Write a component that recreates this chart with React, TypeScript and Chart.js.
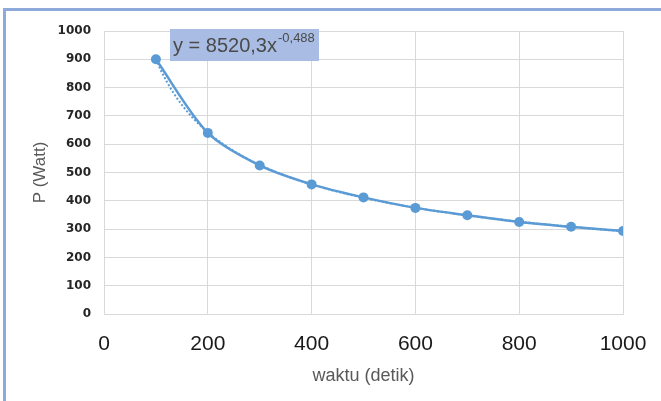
import React, { useEffect, useRef } from "react";
import { Chart, registerables } from "chart.js";

Chart.register(...registerables);

// Measured power against elapsed time
const waktu = [100, 200, 300, 400, 500, 600, 700, 800, 900, 1000];
const daya = [900, 640, 525, 458, 412, 375, 349, 325, 308, 293];

// Power-law trendline y = A * x^B, as given in the equation label
const trendA = 8520.3;
const trendB = -0.488;
const trendLabel = "y = 8520,3x";
const trendExpLabel = "-0,488";

const xTicks = [0, 200, 400, 600, 800, 1000];
const yTicks = [0, 100, 200, 300, 400, 500, 600, 700, 800, 900, 1000];

const BLUE = "#5b9bd5";
const GRID = "#d9d9d9";

function trendPoints() {
  const pts: { x: number; y: number }[] = [];
  for (let x = waktu[0]; x <= waktu[waktu.length - 1]; x += 10) {
    pts.push({ x, y: trendA * Math.pow(x, trendB) });
  }
  return pts;
}

// Equation box drawn above the series
const equationPlugin = {
  id: "equationBox",
  afterDatasetsDraw(chart: Chart) {
    const { ctx } = chart;
    ctx.save();
    const bx = 170;
    const by = 29;
    ctx.fillStyle = "#a9bde4";
    ctx.fillRect(bx, by, 149, 32);
    ctx.fillStyle = "#4a4a4a";
    ctx.textBaseline = "alphabetic";
    ctx.textAlign = "left";
    ctx.font = '20px "Liberation Sans", Arial, sans-serif';
    ctx.fillText(trendLabel, bx + 3, by + 23);
    const w = ctx.measureText(trendLabel).width;
    ctx.font = '13px "Liberation Sans", Arial, sans-serif';
    ctx.fillText(trendExpLabel, bx + 3 + w + 1, by + 13);
    ctx.restore();
  },
};

const plainNumber = (v: number | string) => String(v);

export default function App() {
  const canvasRef = useRef<HTMLCanvasElement | null>(null);

  useEffect(() => {
    if (!canvasRef.current) return;
    const chart = new Chart(canvasRef.current, {
      type: "line",
      data: {
        datasets: [
          {
            label: "P",
            data: waktu.map((x, i) => ({ x, y: daya[i] })),
            borderColor: BLUE,
            backgroundColor: BLUE,
            borderWidth: 2.5,
            pointRadius: 5,
            pointBorderWidth: 0,
            pointBackgroundColor: BLUE,
            tension: 0.3,
            order: 1,
          },
          {
            label: "trend",
            data: trendPoints(),
            borderColor: BLUE,
            borderWidth: 2,
            borderDash: [2, 2],
            pointRadius: 0,
            order: 2,
          },
        ],
      },
      options: {
        responsive: false,
        animation: false,
        layout: { padding: { left: 0, top: 31, right: 38, bottom: 0 } },
        plugins: {
          legend: { display: false },
          tooltip: { enabled: false },
        },
        scales: {
          x: {
            type: "linear",
            min: 0,
            max: 1000,
            afterBuildTicks(scale: any) {
              scale.ticks = xTicks.map((v) => ({ value: v }));
            },
            afterFit(scale: any) {
              scale.height = 87;
              scale.paddingLeft = 0;
              scale.paddingRight = 0;
            },
            grid: { color: GRID, lineWidth: 1, drawTicks: false },
            border: { color: GRID, width: 1 },
            ticks: {
              padding: 18,
              color: "#1a1a1a",
              font: { family: '"Liberation Sans", Arial, sans-serif', size: 21 },
              maxRotation: 0,
              callback: plainNumber,
            },
            title: {
              display: true,
              text: "waktu (detik)",
              color: "#595959",
              font: { family: '"Liberation Sans", Arial, sans-serif', size: 18 },
              padding: { top: 0, bottom: 14 },
            },
          },
          y: {
            type: "linear",
            min: 0,
            max: 1000,
            afterBuildTicks(scale: any) {
              scale.ticks = yTicks.map((v) => ({ value: v }));
            },
            afterFit(scale: any) {
              scale.width = 104;
            },
            grid: { color: GRID, lineWidth: 1, drawTicks: false },
            border: { color: GRID, width: 1 },
            ticks: {
              padding: 13,
              color: "#262626",
              font: { family: '"DejaVu Sans", sans-serif', size: 12, weight: "bold" },
              callback: plainNumber,
            },
            title: {
              display: true,
              text: "P (Watt)",
              color: "#595959",
              font: { family: '"Liberation Sans", Arial, sans-serif', size: 17 },
              padding: { top: 30, bottom: 0 },
            },
          },
        },
      },
      plugins: [equationPlugin],
    });
    return () => chart.destroy();
  }, []);

  return (
    <div
      style={{
        position: "fixed",
        left: 0,
        top: 0,
        width: 661,
        height: 401,
        background: "#ffffff",
        overflow: "hidden",
      }}
    >
      <div
        style={{
          position: "absolute",
          left: 3,
          top: 8,
          right: -20,
          bottom: -20,
          borderTop: "3px solid #8eaadb",
          borderLeft: "3px solid #8eaadb",
        }}
      />
      <canvas
        ref={canvasRef}
        width={661}
        height={401}
        style={{ position: "absolute", left: 0, top: 0 }}
      />
    </div>
  );
}
